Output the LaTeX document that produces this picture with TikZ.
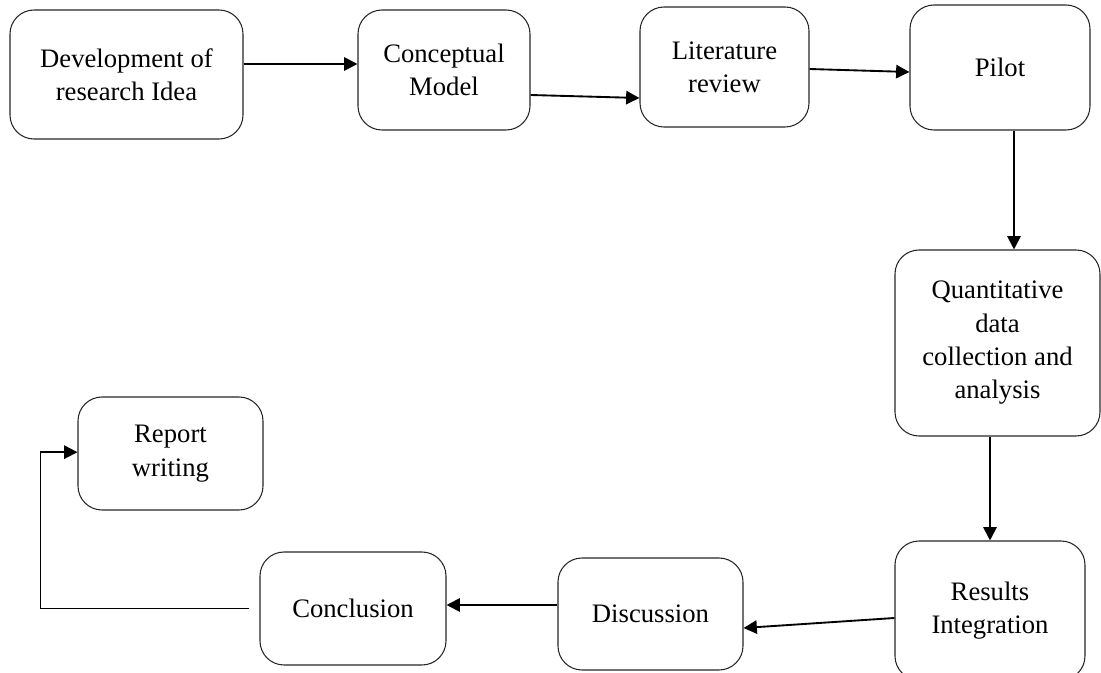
\documentclass[tikz,border=0pt]{standalone}
\usepackage{fontspec}
\setmainfont{Liberation Serif}
\usetikzlibrary{arrows.meta}

\begin{document}
\begin{tikzpicture}[x=0.75pt,y=-0.75pt,->,>={Triangle[length=10pt,width=10pt]},line width=1.4pt,
    box/.style={draw=black!85,line width=0.8pt,rounded corners=18pt,align=center,inner sep=0pt,
        font=\fontsize{20}{25}\selectfont}]

            \useasboundingbox (0,0) rectangle (1101,673);

            \node[box, minimum width=174.75pt, minimum height=96.75pt] (1) at (126.5,74.5) {Development of\\research Idea};
            \node[box, minimum width=129pt, minimum height=90pt] (2) at (444,70) {Conceptual\\Model};
            \node[box, minimum width=126.75pt, minimum height=90pt] (3) at (724.5,67) {Literature\\review};
            \node[box, minimum width=135pt, minimum height=93.75pt] (4) at (1000,67.5) {Pilot};
            \node[box, minimum width=153.75pt, minimum height=139.5pt] (5) at (997.5,343) {Quantitative\\data\\collection and\\analysis};
            \node[box, minimum width=142.5pt, minimum height=104.25pt] (6) at (990,610.5) {Results\\Integration};
            \node[box, minimum width=138.75pt, minimum height=84pt] (7) at (650.5,614) {Discussion};
            \node[box, minimum width=139.5pt, minimum height=84.75pt] (8) at (353,608.5) {Conclusion};
            \node[box, minimum width=138.75pt, minimum height=84.75pt] (9) at (170.5,453.5) {Report\\writing};

            \draw ([yshift=7.875pt]1.east) to ([yshift=4.5pt]2.west);
            \draw ([yshift=-18.75pt]2.east) to ([yshift=-23.25pt]3.west);
            \draw ([yshift=-1.5pt]3.east) to ([yshift=-3.375pt]4.west);
            \draw ([xshift=10.5pt]4.south) to ([xshift=12.375pt]5.north);
            \draw ([xshift=-5.625pt]5.south) to (6.north);
            \draw ([yshift=-5.625pt]6.west) to ([yshift=-10.5pt]7.east);
            \draw ([yshift=6.75pt]7.west) to ([yshift=2.625pt]8.east);
            \draw ([xshift=-7.5pt]8.west) -| ([xshift=-27.75pt,yshift=1pt]9.west) -- ([yshift=1pt]9.west);

            ;
        \end{tikzpicture}
\end{document}
